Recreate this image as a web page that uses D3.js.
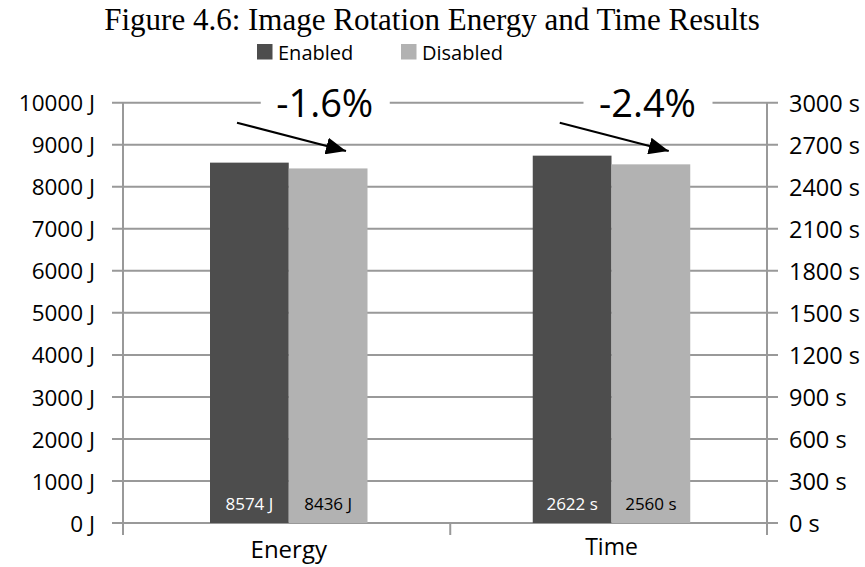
<!DOCTYPE html>
<html>
<head>
<meta charset="utf-8">
<script src="https://cdn.jsdelivr.net/npm/d3@7/dist/d3.min.js"></script>
<style>
  html, body { margin: 0; padding: 0; background: #fff; }
  svg { display: block; }
  .sans { font-family: "Open Sans", "Noto Sans", sans-serif; }
</style>
</head>
<body>
<svg id="chart" width="865" height="567"></svg>
<script>
// Measurements: energy (J) and time (s), with the feature enabled vs disabled
const categories = ["Energy", "Time"];
const seriesNames = ["Enabled", "Disabled"];
const energyValues = [8574, 8436];
const timeValues = [2622, 2560];
const changeLabels = ["-1.6%", "-2.4%"];
const energyTicks = [0, 1000, 2000, 3000, 4000, 5000, 6000, 7000, 8000, 9000, 10000];
const timeTicks = [0, 300, 600, 900, 1200, 1500, 1800, 2100, 2400, 2700, 3000];

const colors = { Enabled: "#4d4d4d", Disabled: "#b2b2b2" };
const gridColor = "#999999";

const svg = d3.select("#chart");
const plotLeft = 123, plotRight = 767, plotTop = 102.7, plotBottom = 523;

const yEnergy = d3.scaleLinear().domain([0, 10000]).range([plotBottom, plotTop]);
const yTime = d3.scaleLinear().domain([0, 3000]).range([plotBottom, plotTop]);
const yScales = [yEnergy, yTime];
const valueSets = [energyValues, timeValues];
const units = ["J", "s"];

// Category bands, and the series pair within each band
const x0 = d3.scaleBand().domain(categories).range([127.5, 773]);
const x1 = d3.scaleBand().domain(seriesNames).range([82.5, 240]);

// Title
svg.append("text")
  .attr("x", 432).attr("y", 30)
  .attr("text-anchor", "middle")
  .style("font-family", "'Liberation Serif', 'Times New Roman', serif")
  .style("font-size", "31px")
  .text("Figure 4.6: Image Rotation Energy and Time Results");

// Legend
const legendX = [257, 401];
seriesNames.forEach((s, i) => {
  svg.append("rect")
    .attr("x", legendX[i]).attr("y", 44).attr("width", 15.5).attr("height", 15.5)
    .attr("fill", colors[s]);
  svg.append("text").attr("class", "sans")
    .attr("x", legendX[i] + 21).attr("y", 59.5)
    .style("font-size", "20px")
    .text(s);
});

// Gridlines (shared by both axes)
const grid = svg.append("g");
grid.selectAll("line").data(energyTicks).join("line")
  .attr("x1", 112).attr("x2", plotRight + 11)
  .attr("y1", d => yEnergy(d)).attr("y2", d => yEnergy(d))
  .attr("stroke", gridColor).attr("stroke-width", 2);

// Axis lines
svg.append("line").attr("x1", plotLeft).attr("x2", plotLeft).attr("y1", plotTop).attr("y2", 535)
  .attr("stroke", gridColor).attr("stroke-width", 2);
svg.append("line").attr("x1", plotRight).attr("x2", plotRight).attr("y1", plotTop).attr("y2", 535)
  .attr("stroke", gridColor).attr("stroke-width", 2);
// Category divider tick
const midX = x0("Time");
svg.append("line").attr("x1", midX).attr("x2", midX).attr("y1", plotBottom).attr("y2", 535)
  .attr("stroke", gridColor).attr("stroke-width", 2);

// Left axis labels
const leftAxis = d3.axisLeft(yEnergy).tickValues(energyTicks).tickSize(0).tickPadding(0)
  .tickFormat(d => d + " J");
const gl = svg.append("g").attr("transform", `translate(95,0)`).call(leftAxis);
gl.select(".domain").remove();
gl.selectAll("text").attr("class", "sans").style("font-size", "22.5px").attr("fill", "#000")
  .attr("dy", "0.36em");

// Right axis labels
const rightAxis = d3.axisRight(yTime).tickValues(timeTicks).tickSize(0).tickPadding(0)
  .tickFormat(d => d + " s");
const gr = svg.append("g").attr("transform", `translate(789,0)`).call(rightAxis);
gr.select(".domain").remove();
gr.selectAll("text").attr("class", "sans").style("font-size", "23.5px").attr("fill", "#000")
  .attr("dy", "0.36em");

// Bars
categories.forEach((c, ci) => {
  const y = yScales[ci];
  const g = svg.append("g").attr("transform", `translate(${x0(c)},0)`);
  g.selectAll("rect").data(seriesNames).join("rect")
    .attr("x", s => x1(s))
    .attr("width", x1.bandwidth())
    .attr("y", (s, i) => y(valueSets[ci][i]))
    .attr("height", (s, i) => plotBottom - y(valueSets[ci][i]))
    .attr("fill", s => colors[s]);
  g.selectAll("text.val").data(seriesNames).join("text")
    .attr("class", "val sans")
    .attr("x", s => x1(s) + x1.bandwidth() / 2)
    .attr("y", 510)
    .attr("text-anchor", "middle")
    .style("font-size", "17px")
    .attr("fill", s => s === "Enabled" ? "#fff" : "#000")
    .text((s, i) => valueSets[ci][i] + " " + units[ci]);
  // Category label
  svg.append("text").attr("class", "sans")
    .attr("x", x0(c) + x1.range()[0] + (x1.range()[1] - x1.range()[0]) / 2)
    .attr("y", ci === 0 ? 558 : 555)
    .attr("text-anchor", "middle")
    .style("font-size", ci === 0 ? "24px" : "23px")
    .text(c);
});

// Change annotations with arrows
const defs = svg.append("defs");
defs.append("marker")
  .attr("id", "arrowhead")
  .attr("viewBox", "0 0 20 17")
  .attr("refX", 20).attr("refY", 8.5)
  .attr("markerWidth", 20).attr("markerHeight", 17)
  .attr("markerUnits", "userSpaceOnUse")
  .attr("orient", "auto")
  .append("path").attr("d", "M0,0 L20,8.5 L0,17 Z").attr("fill", "#000");

categories.forEach((c, ci) => {
  const bx = x0(c) + x1.range()[0];
  const pairW = x1.range()[1] - x1.range()[0];
  const cx = bx + pairW / 2 + 36;
  // white gap behind the label on the top gridline
  svg.append("rect")
    .attr("x", cx - 64).attr("y", plotTop - 4).attr("width", 129).attr("height", 8)
    .attr("fill", "#fff");
  svg.append("text").attr("class", "sans")
    .attr("x", cx).attr("y", 116.5)
    .attr("text-anchor", "middle")
    .style("font-size", "38px")
    .text(changeLabels[ci]);
  svg.append("line")
    .attr("x1", bx + 27).attr("y1", 122.7)
    .attr("x2", bx + 136).attr("y2", 151)
    .attr("stroke", "#000").attr("stroke-width", 2)
    .attr("marker-end", "url(#arrowhead)");
});
</script>
</body>
</html>
